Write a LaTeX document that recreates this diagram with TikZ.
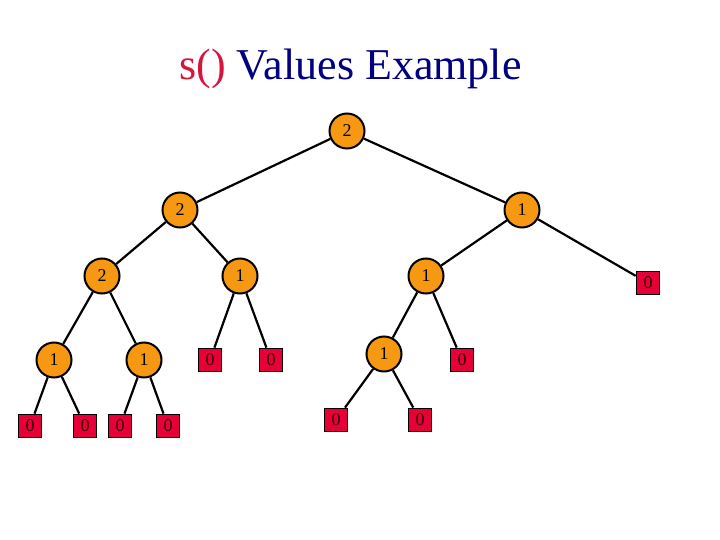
\documentclass[tikz,border=0pt]{standalone}
\usepackage{fontspec}
\setmainfont{Liberation Serif}
\definecolor{nodeorange}{RGB}{247,152,18}
\definecolor{leafred}{RGB}{230,0,55}
\definecolor{titlered}{RGB}{215,20,60}
\definecolor{titleblue}{RGB}{0,0,128}
\tikzset{
  inner/.style={circle, draw=black, line width=2pt, fill=nodeorange, minimum size=35pt, inner sep=0pt, font=\fontsize{18}{18}\selectfont},
  leaf/.style={rectangle, draw=black, line width=1.8pt, fill=leafred, minimum size=23pt, inner sep=0pt, font=\fontsize{18}{18}\selectfont, text=black!80!red},
  edge/.style={draw=black, line width=2.2pt}
}
\begin{document}
\begin{tikzpicture}[x=1pt,y=-1pt]
\useasboundingbox (0,0) rectangle (720,540);
\node[anchor=base, font=\fontsize{44}{44}\selectfont] (title) at (350.5,80) {\textcolor{titlered}{s()} \textcolor{titleblue}{Values Example}};
% internal nodes
\node[inner] (r) at (347,131) {2};
\node[inner] (a) at (180,210) {2};
\node[inner] (b) at (522,210) {1};
\node[inner] (c) at (102,276) {2};
\node[inner] (d) at (240,276) {1};
\node[inner] (e) at (426,276) {1};
\node[inner] (g) at (54,360) {1};
\node[inner] (h) at (144,360) {1};
\node[inner] (k) at (384,354) {1};
% leaves
\node[leaf] (f) at (648,283) {\raisebox{-2pt}{0}};
\node[leaf] (i) at (210,360) {0};
\node[leaf] (j) at (271,360) {0};
\node[leaf] (l) at (462,360) {\raisebox{-2pt}{0}};
\node[leaf] (m) at (30,426) {0};
\node[leaf] (n) at (85,426) {0};
\node[leaf] (o) at (120,426) {0};
\node[leaf] (p) at (168,426) {0};
\node[leaf] (q) at (336,420) {\raisebox{-2pt}{0}};
\node[leaf] (s) at (420,420) {\raisebox{-2pt}{0}};
% edges
\path[edge] (r) -- (a);
\path[edge] (r) -- (b);
\path[edge] (a) -- (c);
\path[edge] (a) -- (d);
\path[edge] (b) -- (e);
\path[edge] (b) -- (f);
\path[edge] (c) -- (g);
\path[edge] (c) -- (h);
\path[edge] (d) -- (i);
\path[edge] (d) -- (j);
\path[edge] (e) -- (k);
\path[edge] (e) -- (l);
\path[edge] (g) -- (m);
\path[edge] (g) -- (n);
\path[edge] (h) -- (o);
\path[edge] (h) -- (p);
\path[edge] (k) -- (q);
\path[edge] (k) -- (s);
\end{tikzpicture}
\end{document}
